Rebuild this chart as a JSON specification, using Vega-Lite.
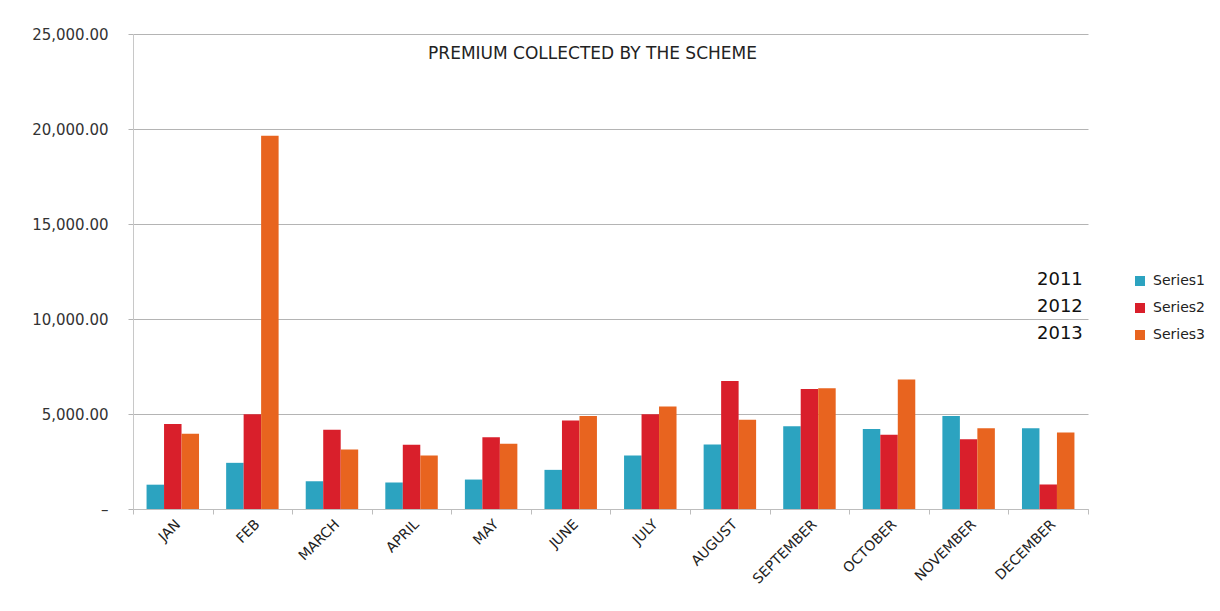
{
  "$schema": "https://vega.github.io/schema/vega-lite/v6.json",
  "width": 955,
  "height": 475,
  "autosize": {"type": "none"},
  "padding": {"left": 133, "top": 34, "right": 132, "bottom": 102},
  "background": "white",
  "title": {
    "text": "PREMIUM COLLECTED BY THE SCHEME",
    "anchor": "middle",
    "dx": -18,
    "offset": -49,
    "baseline": "alphabetic",
    "font": "DejaVu Sans",
    "fontSize": 17,
    "fontWeight": "normal",
    "color": "#222222"
  },
  "data": {
    "values": [
      {"month": "JAN", "series": "Series1", "year": "2011", "value": 1280},
      {"month": "JAN", "series": "Series2", "year": "2012", "value": 4480},
      {"month": "JAN", "series": "Series3", "year": "2013", "value": 3960},
      {"month": "FEB", "series": "Series1", "year": "2011", "value": 2430},
      {"month": "FEB", "series": "Series2", "year": "2012", "value": 4990},
      {"month": "FEB", "series": "Series3", "year": "2013", "value": 19640},
      {"month": "MARCH", "series": "Series1", "year": "2011", "value": 1460},
      {"month": "MARCH", "series": "Series2", "year": "2012", "value": 4170},
      {"month": "MARCH", "series": "Series3", "year": "2013", "value": 3130},
      {"month": "APRIL", "series": "Series1", "year": "2011", "value": 1390},
      {"month": "APRIL", "series": "Series2", "year": "2012", "value": 3380},
      {"month": "APRIL", "series": "Series3", "year": "2013", "value": 2810},
      {"month": "MAY", "series": "Series1", "year": "2011", "value": 1550},
      {"month": "MAY", "series": "Series2", "year": "2012", "value": 3780},
      {"month": "MAY", "series": "Series3", "year": "2013", "value": 3430},
      {"month": "JUNE", "series": "Series1", "year": "2011", "value": 2060},
      {"month": "JUNE", "series": "Series2", "year": "2012", "value": 4660},
      {"month": "JUNE", "series": "Series3", "year": "2013", "value": 4890},
      {"month": "JULY", "series": "Series1", "year": "2011", "value": 2820},
      {"month": "JULY", "series": "Series2", "year": "2012", "value": 4990},
      {"month": "JULY", "series": "Series3", "year": "2013", "value": 5390},
      {"month": "AUGUST", "series": "Series1", "year": "2011", "value": 3400},
      {"month": "AUGUST", "series": "Series2", "year": "2012", "value": 6740},
      {"month": "AUGUST", "series": "Series3", "year": "2013", "value": 4700},
      {"month": "SEPTEMBER", "series": "Series1", "year": "2011", "value": 4350},
      {"month": "SEPTEMBER", "series": "Series2", "year": "2012", "value": 6320},
      {"month": "SEPTEMBER", "series": "Series3", "year": "2013", "value": 6360},
      {"month": "OCTOBER", "series": "Series1", "year": "2011", "value": 4210},
      {"month": "OCTOBER", "series": "Series2", "year": "2012", "value": 3910},
      {"month": "OCTOBER", "series": "Series3", "year": "2013", "value": 6810},
      {"month": "NOVEMBER", "series": "Series1", "year": "2011", "value": 4900},
      {"month": "NOVEMBER", "series": "Series2", "year": "2012", "value": 3670},
      {"month": "NOVEMBER", "series": "Series3", "year": "2013", "value": 4250},
      {"month": "DECEMBER", "series": "Series1", "year": "2011", "value": 4250},
      {"month": "DECEMBER", "series": "Series2", "year": "2012", "value": 1290},
      {"month": "DECEMBER", "series": "Series3", "year": "2013", "value": 4020}
    ]
  },
  "mark": {"type": "bar"},
  "encoding": {
    "x": {
      "field": "month",
      "type": "nominal",
      "sort": ["JAN", "FEB", "MARCH", "APRIL", "MAY", "JUNE", "JULY", "AUGUST", "SEPTEMBER", "OCTOBER", "NOVEMBER", "DECEMBER"],
      "scale": {"paddingInner": 0, "paddingOuter": 0},
      "axis": {
        "title": null,
        "tickBand": "extent",
        "labelAngle": -45,
        "labelAlign": "right",
        "labelBaseline": "top",
        "labelPadding": 3,
        "labelFont": "DejaVu Sans",
        "labelFontSize": 14,
        "labelColor": "#222222",
        "tickSize": 5,
        "tickColor": "#bdbdbd",
        "domainColor": "#bdbdbd",
        "grid": false
      }
    },
    "xOffset": {
      "field": "series",
      "type": "nominal",
      "scale": {"paddingInner": 0, "paddingOuter": 0.775}
    },
    "y": {
      "field": "value",
      "type": "quantitative",
      "scale": {"domain": [0, 25000]},
      "axis": {
        "title": null,
        "values": [0, 5000, 10000, 15000, 20000, 25000],
        "labelExpr": "datum.value === 0 ? '–\u00a0\u00a0' : format(datum.value, ',.2f')",
        "labelFont": "DejaVu Sans",
        "labelFontSize": 15,
        "labelColor": "#333333",
        "labelPadding": 20,
        "tickSize": 5,
        "tickColor": "#b4b4b4",
        "gridColor": "#b4b4b4",
        "domainColor": "#c8c8c8",
        "grid": true
      }
    },
    "color": {
      "field": "series",
      "type": "nominal",
      "scale": {"domain": ["Series1", "Series2", "Series3"], "range": ["#2ca3c0", "#d91f2b", "#e8641f"]},
      "legend": {
        "title": null,
        "orient": "none",
        "legendX": 1000,
        "legendY": 240,
        "padding": 0,
        "symbolType": "square",
        "symbolSize": 100,
        "symbolStrokeWidth": 0,
        "labelOffset": 6,
        "labelFont": "DejaVu Sans",
        "labelFontSize": 14,
        "labelColor": "#222222",
        "rowPadding": 13
      }
    },
    "opacity": {
      "field": "year",
      "type": "ordinal",
      "scale": {"domain": ["2011", "2012", "2013"], "range": [1, 1]},
      "legend": {
        "title": null,
        "orient": "none",
        "legendX": 886,
        "legendY": 237,
        "padding": 0,
        "symbolSize": 0,
        "symbolOpacity": 0,
        "labelOffset": 0,
        "labelFont": "DejaVu Sans",
        "labelFontSize": 18,
        "labelColor": "#111111",
        "rowPadding": 9
      }
    }
  },
  "config": {"view": {"stroke": null}}
}
